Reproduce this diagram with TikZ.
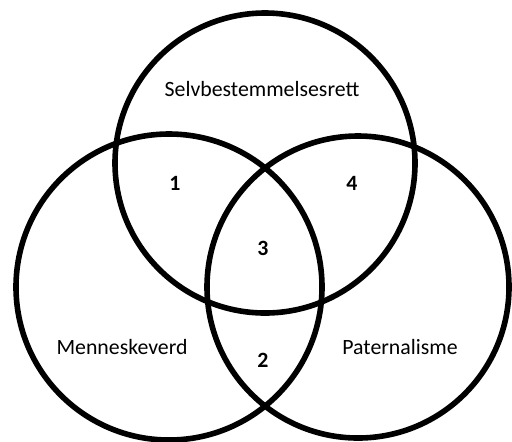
\documentclass[tikz,border=0pt]{standalone}
\usepackage{fontspec}
\setmainfont{Carlito}
\usepackage{tikz}
\usetikzlibrary{positioning}
\tikzset{
  ring/.style={draw, line width=2.8pt},
  lbl/.style={font=\fontsize{10.9}{13}\selectfont, inner sep=1pt},
  num/.style={lbl, font=\fontsize{10.9}{13}\selectfont\bfseries},
}
\begin{document}
\begin{tikzpicture}[x=0.5pt,y=-0.5pt]
\useasboundingbox (0,0) rectangle (512,441);
\draw[ring] (265,163) circle (150);
\draw[ring] (169,287) circle (153);
\draw[ring] (358,287) circle (151);
\node[lbl] (selv) at (262,89) {Selvbestemmelsesrett};
\node[lbl] (menn) at (122,347) {Menneskeverd};
\node[lbl] (pat) at (400,347) {Paternalisme};
\node[num] (n1) at (175,183) {1};
\node[num] (n4) at (352,183) {4};
\node[num] (n3) at (263,248) {3};
\node[num] (n2) at (263,360) {2};
\end{tikzpicture}
\end{document}
